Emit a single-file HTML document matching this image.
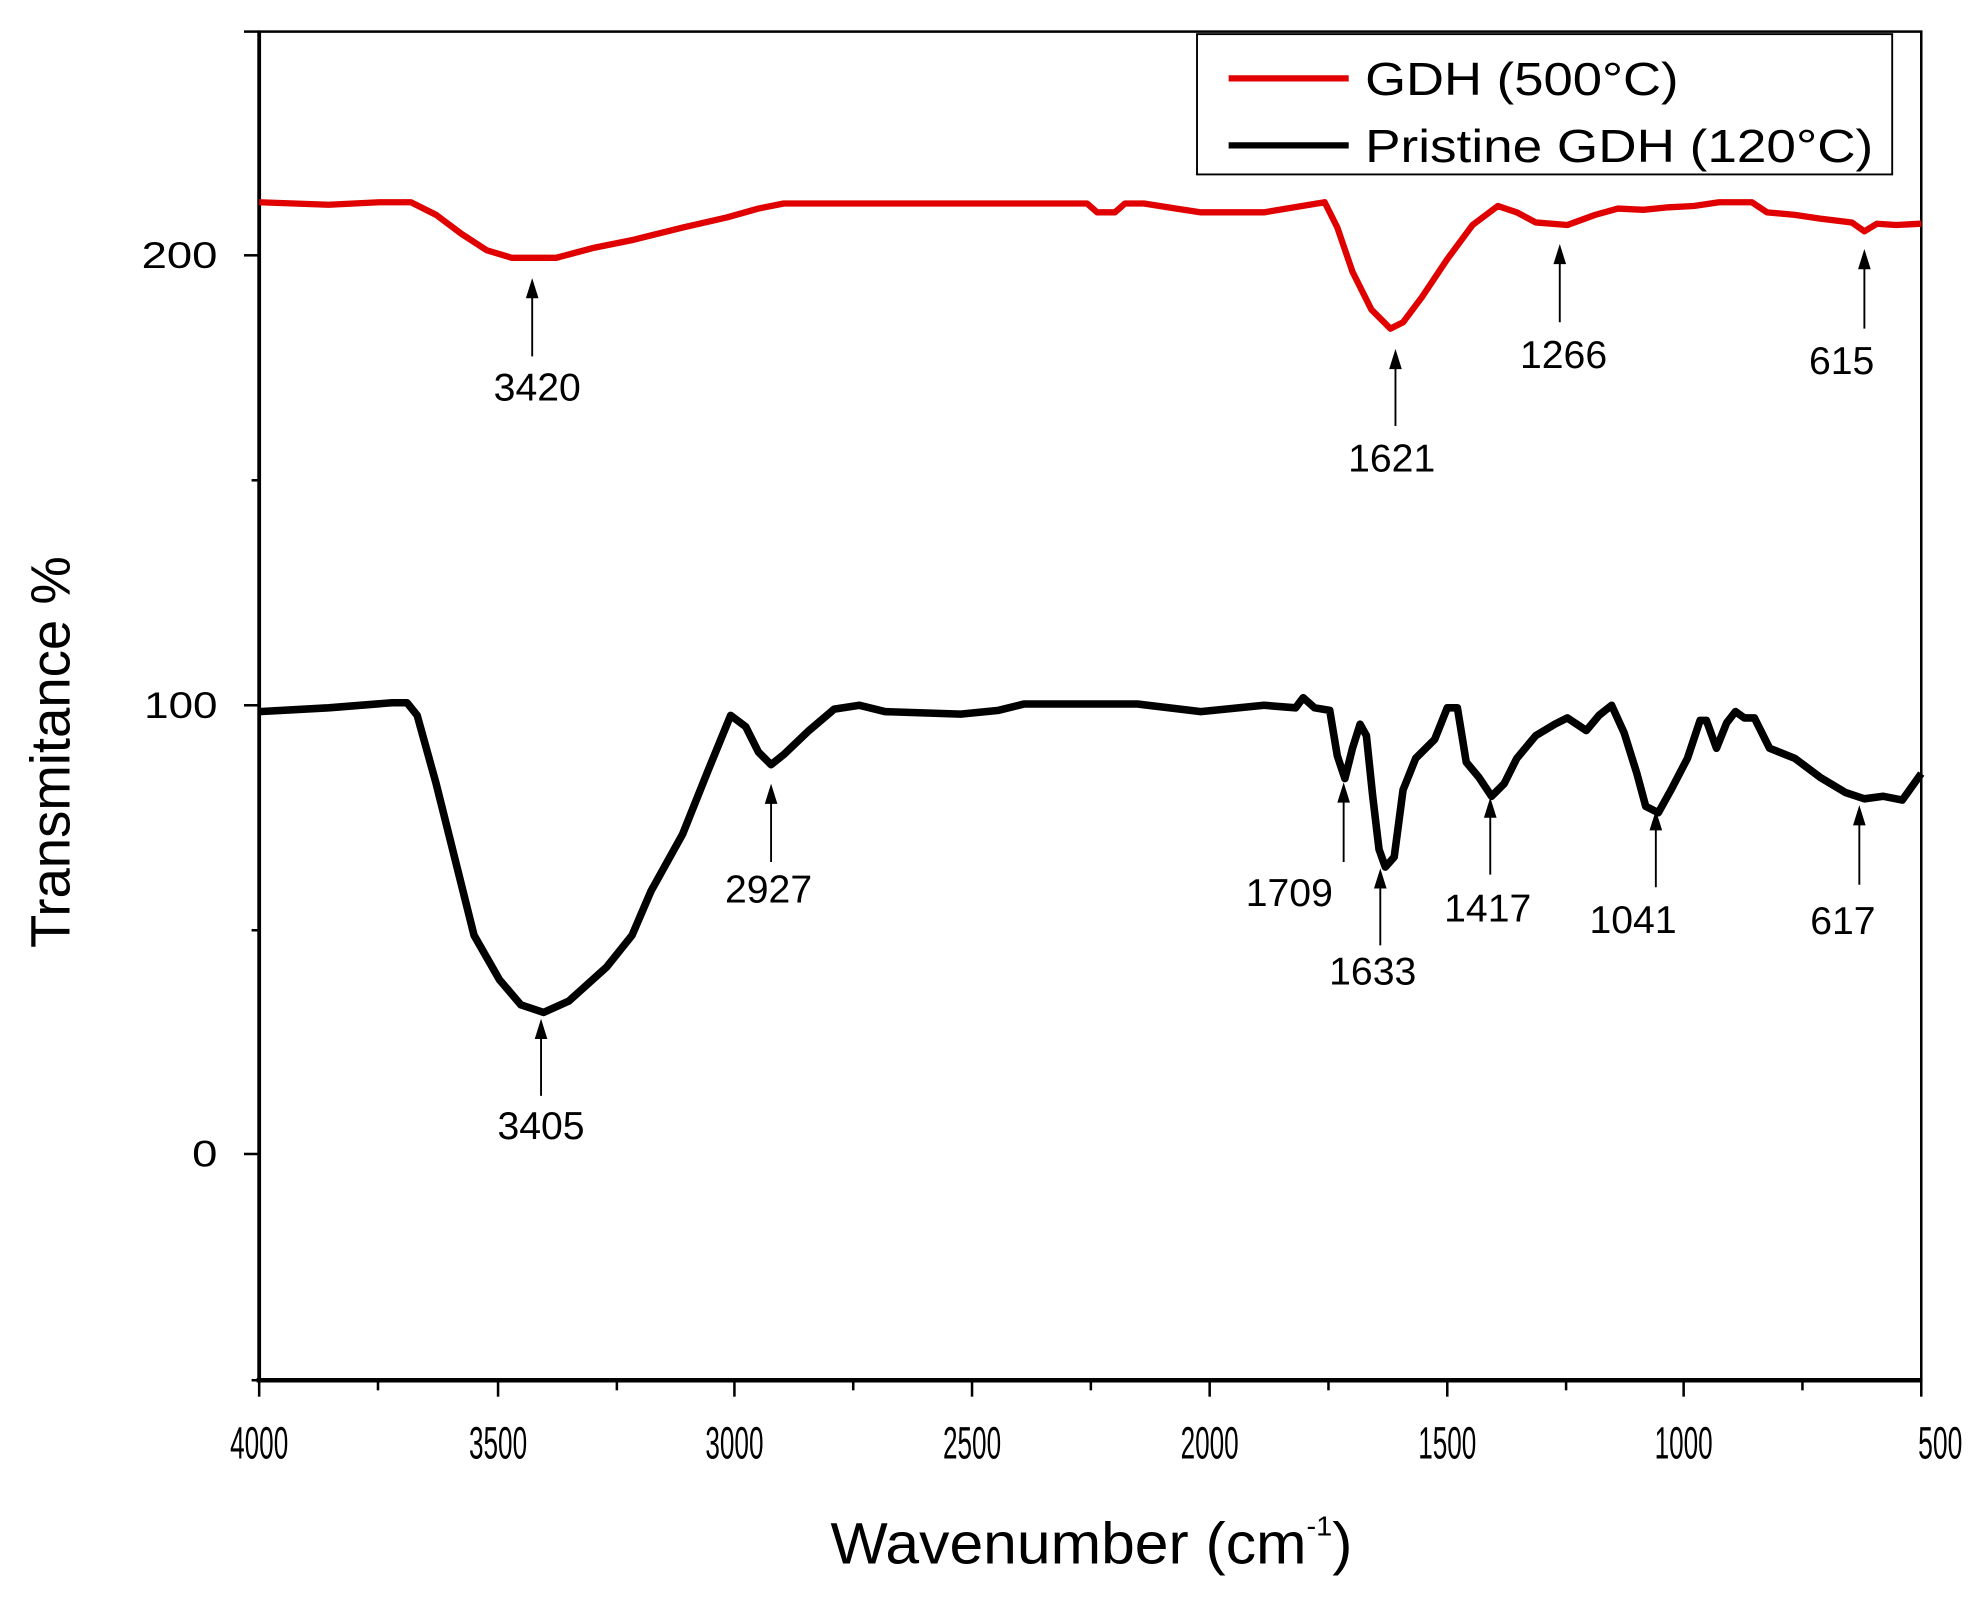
<!DOCTYPE html>
<html><head><style>html,body{margin:0;padding:0;background:#fff}svg{display:block}</style></head>
<body>
<svg width="1982" height="1609" viewBox="0 0 1568 1273" xmlns="http://www.w3.org/2000/svg" font-family="Liberation Sans, Arial, sans-serif">
<rect width="1568" height="1273" fill="#fff"/>
<rect x="205" y="25" width="1315" height="1067" fill="none" stroke="#000" stroke-width="2"/>
<line x1="205" y1="25" x2="205" y2="1092" stroke="#000" stroke-width="3"/>
<line x1="203" y1="1092" x2="1521" y2="1092" stroke="#000" stroke-width="3.5"/>
<g stroke="#000" stroke-width="2">
<line x1="193" y1="25" x2="205" y2="25"/>
<line x1="193" y1="202" x2="205" y2="202"/>
<line x1="199" y1="380" x2="205" y2="380"/>
<line x1="193" y1="558" x2="205" y2="558"/>
<line x1="199" y1="736" x2="205" y2="736"/>
<line x1="193" y1="913" x2="205" y2="913"/>
<line x1="199" y1="1092" x2="205" y2="1092"/>
<line x1="205" y1="1092" x2="205" y2="1105"/>
<line x1="299" y1="1092" x2="299" y2="1100"/>
<line x1="394" y1="1092" x2="394" y2="1105"/>
<line x1="488" y1="1092" x2="488" y2="1100"/>
<line x1="581" y1="1092" x2="581" y2="1105"/>
<line x1="675" y1="1092" x2="675" y2="1100"/>
<line x1="769" y1="1092" x2="769" y2="1105"/>
<line x1="863" y1="1092" x2="863" y2="1100"/>
<line x1="957" y1="1092" x2="957" y2="1105"/>
<line x1="1051" y1="1092" x2="1051" y2="1100"/>
<line x1="1145" y1="1092" x2="1145" y2="1105"/>
<line x1="1239" y1="1092" x2="1239" y2="1100"/>
<line x1="1332" y1="1092" x2="1332" y2="1105"/>
<line x1="1426" y1="1092" x2="1426" y2="1100"/>
<line x1="1520" y1="1092" x2="1520" y2="1105"/>
</g>
<g font-size="36" text-anchor="middle">
<text x="205" y="1154" textLength="46" lengthAdjust="spacingAndGlyphs">4000</text>
<text x="394" y="1154" textLength="46" lengthAdjust="spacingAndGlyphs">3500</text>
<text x="581" y="1154" textLength="46" lengthAdjust="spacingAndGlyphs">3000</text>
<text x="769" y="1154" textLength="46" lengthAdjust="spacingAndGlyphs">2500</text>
<text x="957" y="1154" textLength="46" lengthAdjust="spacingAndGlyphs">2000</text>
<text x="1145" y="1154" textLength="46" lengthAdjust="spacingAndGlyphs">1500</text>
<text x="1332" y="1154" textLength="46" lengthAdjust="spacingAndGlyphs">1000</text>
<text x="1535" y="1154" textLength="35" lengthAdjust="spacingAndGlyphs">500</text>
</g>
<g font-size="29" text-anchor="end">
<text x="172" y="212" textLength="60" lengthAdjust="spacingAndGlyphs">200</text>
<text x="172" y="568" textLength="58" lengthAdjust="spacingAndGlyphs">100</text>
<text x="172" y="923" textLength="20" lengthAdjust="spacingAndGlyphs">0</text>
</g>
<text x="657" y="1237" font-size="46" textLength="413" lengthAdjust="spacingAndGlyphs">Wavenumber (cm<tspan dy="-22" font-size="22">-1</tspan><tspan dy="22">)</tspan></text>
<text transform="translate(55,595) rotate(-90)" font-size="44" text-anchor="middle" textLength="310" lengthAdjust="spacingAndGlyphs">Transmitance %</text>
<rect x="947" y="27" width="550" height="111" fill="#fff" stroke="#000" stroke-width="1.5"/>
<line x1="972" y1="62" x2="1067" y2="62" stroke="#e00000" stroke-width="5"/>
<line x1="972" y1="115" x2="1067" y2="115" stroke="#000" stroke-width="5"/>
<text x="1080" y="75" font-size="37" textLength="248" lengthAdjust="spacingAndGlyphs">GDH (500°C)</text>
<text x="1080" y="128" font-size="37" textLength="402" lengthAdjust="spacingAndGlyphs">Pristine GDH (120°C)</text>
<polyline fill="none" stroke="#e00000" stroke-width="5" stroke-linejoin="round" points="205,160 260,162 300,160 325,160 345,170 365,185 385,198 405,204 440,204 470,196 500,190 540,180 575,172 600,165 620,161 700,161 800,161 860,161 868,168 882,168 890,161 905,161 930,165 950,168 1000,168 1030,163 1048,160 1058,180 1070,215 1085,245 1100,260 1110,255 1125,235 1145,205 1165,178 1185,163 1200,168 1215,176 1240,178 1262,170 1280,165 1300,166 1320,164 1340,163 1360,160 1386,160 1398,168 1420,170 1440,173 1465,176 1475,183 1485,177 1500,178 1520,177"/>
<polyline fill="none" stroke="#000" stroke-width="6" stroke-linejoin="round" points="205,563 260,560 310,556 322,556 330,566 345,620 360,680 375,740 395,775 412,795 430,801 450,792 480,765 500,740 515,705 540,660 560,610 578,566 590,575 600,595 610,605 620,597 640,578 660,561 680,558 700,563 760,565 790,562 810,557 900,557 950,563 1000,558 1025,560 1031,552 1040,560 1052,562 1058,598 1064,616 1070,592 1076,573 1081,582 1086,630 1091,672 1096,686 1103,678 1110,625 1120,600 1135,585 1145,560 1153,560 1160,603 1170,615 1180,630 1190,620 1200,600 1215,582 1230,573 1240,568 1255,578 1265,566 1275,558 1285,580 1295,612 1302,638 1312,643 1322,625 1335,600 1345,570 1350,570 1358,592 1366,572 1373,563 1380,568 1388,568 1400,592 1420,600 1440,615 1460,627 1475,632 1490,630 1505,633 1520,612"/>
<g stroke="#000" stroke-width="1.5">
<line x1="421" y1="282" x2="421" y2="225"/>
<line x1="1104" y1="337" x2="1104" y2="282"/>
<line x1="1234" y1="255" x2="1234" y2="198"/>
<line x1="1475" y1="260" x2="1475" y2="202"/>
<line x1="428" y1="867" x2="428" y2="812"/>
<line x1="610" y1="682" x2="610" y2="626"/>
<line x1="1063" y1="682" x2="1063" y2="625"/>
<line x1="1092" y1="748" x2="1092" y2="693"/>
<line x1="1179" y1="692" x2="1179" y2="637"/>
<line x1="1310" y1="702" x2="1310" y2="647"/>
<line x1="1471" y1="700" x2="1471" y2="643"/>
</g>
<g fill="#000">
<polygon points="421,220 416,236 426,236"/>
<polygon points="1104,276 1099,292 1109,292"/>
<polygon points="1234,193 1229,209 1239,209"/>
<polygon points="1475,197 1470,213 1480,213"/>
<polygon points="428,806 423,822 433,822"/>
<polygon points="610,620 605,636 615,636"/>
<polygon points="1063,619 1058,635 1068,635"/>
<polygon points="1092,687 1087,703 1097,703"/>
<polygon points="1179,631 1174,647 1184,647"/>
<polygon points="1310,641 1305,657 1315,657"/>
<polygon points="1471,637 1466,653 1476,653"/>
</g>
<g font-size="31" text-anchor="middle">
<text x="425" y="317">3420</text>
<text x="1101" y="373">1621</text>
<text x="1237" y="291">1266</text>
<text x="1457" y="296">615</text>
<text x="428" y="901">3405</text>
<text x="608" y="714">2927</text>
<text x="1020" y="717">1709</text>
<text x="1086" y="779">1633</text>
<text x="1177" y="729">1417</text>
<text x="1292" y="738">1041</text>
<text x="1458" y="739">617</text>
</g>
</svg>
</body></html>
